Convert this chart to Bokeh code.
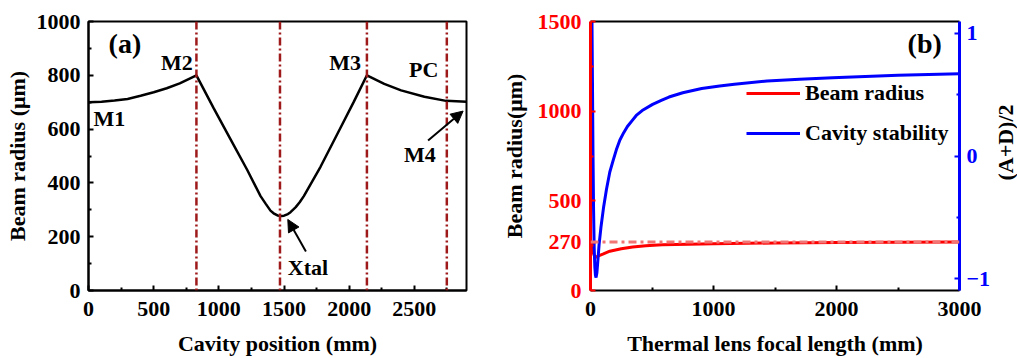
from bokeh.plotting import figure
from bokeh.models import (Range1d, LinearAxis, FixedTicker, Span, Label, Arrow,
                          NormalHead, Legend, LegendItem)
from bokeh.layouts import row
from bokeh.embed import file_html
from bokeh.resources import INLINE
import math

FONT = "Liberation Serif"

# ---------------- panel (a) data ----------------
cav_pos = [0, 100, 200, 300, 400, 500, 600, 700, 828, 961, 1089, 1218, 1320, 1360,
           1396, 1420, 1450, 1480, 1500, 1530, 1550, 1590, 1620, 1652, 1780, 1908,
           2036, 2136, 2269, 2398, 2577, 2743, 2900]
beam_w = [700, 702, 706, 712, 724, 737, 752, 770, 800, 677, 563, 448, 351, 322,
          297, 287, 279, 277, 278, 284, 291, 310, 328, 351, 460, 581,
          702, 800, 768, 744, 720, 705, 702]
mirror_pos = [828, 1469, 2136, 2749]
a_xticks = [0, 500, 1000, 1500, 2000, 2500]
a_xminor = [250, 750, 1250, 1750, 2250, 2750]
a_yticks = [0, 200, 400, 600, 800, 1000]
a_yminor = [100, 300, 500, 700, 900]
a_labels = ["M1", "M2", "M3", "PC", "M4", "Xtal"]
a_label_x = [38, 799, 2090, 2459, 2421, 1529]
a_label_y = [641, 848, 848, 822, 507, 87]
a_label_align = ["left", "right", "right", "left", "left", "left"]
arrow_tail = [(2605, 558), (1668, 145)]
arrow_tip = [(2874, 667), (1529, 264)]

# ---------------- panel (b) data ----------------
f_red = [5, 20, 37, 60, 100, 157, 250, 343, 450, 582, 800, 1000, 1500, 2000, 2500, 3000]
w_red = [268, 215, 183, 192, 203, 219, 233, 243, 250, 255, 258, 261, 265, 268, 269, 270]
f_blue = [8, 12, 16, 20, 25, 30, 35, 40, 45, 52, 60, 70, 85, 106, 130, 157, 186, 210,
          239, 270, 300, 340, 372, 420, 505, 580, 638, 750, 904, 1050, 1170, 1436,
          1700, 1968, 2500, 3000]
v_blue = [1.4, 1.1, 0.6, 0.05, -0.44, -0.75, -0.9, -0.97, -0.99, -0.95, -0.85, -0.72,
          -0.58, -0.42, -0.27, -0.13, -0.03, 0.05, 0.13, 0.19, 0.24, 0.29, 0.33, 0.37,
          0.42, 0.455, 0.48, 0.515, 0.55, 0.57, 0.585, 0.61, 0.625, 0.638, 0.658, 0.67]
ref_radius = 270
b_xticks = [0, 1000, 2000, 3000]
b_xminor = [500, 1500, 2500]
b_yticks = [0, 270, 500, 1000, 1500]
b_yminor = [250, 750, 1250]
b_rticks = [-1, 0, 1]
b_rminor = [-0.5, 0.5]


def style_axis(ax, color="black"):
    ax.axis_line_color = color
    ax.axis_line_width = 2
    ax.major_tick_line_color = color
    ax.minor_tick_line_color = color
    ax.major_tick_line_width = 2
    ax.minor_tick_line_width = 2
    ax.major_tick_in = 5
    ax.major_tick_out = 0
    ax.minor_tick_in = 3
    ax.minor_tick_out = 0
    ax.major_label_text_font = FONT
    ax.major_label_text_font_style = "bold"
    ax.major_label_text_font_size = "22px"
    ax.major_label_text_color = color
    ax.axis_label_text_font = FONT
    ax.axis_label_text_font_style = "bold"
    ax.axis_label_text_font_size = "22px"
    ax.axis_label_text_color = "black"


H = 358

# ---------------- panel (a) ----------------
pa = figure(width=498, height=H, x_range=Range1d(0, 2900), y_range=Range1d(0, 1000),
            output_backend="svg", toolbar_location=None,
            min_border_left=88, min_border_right=32, min_border_top=21, min_border_bottom=61)
pa.grid.visible = False
pa.outline_line_color = "black"
pa.outline_line_width = 2
pa.background_fill_color = "white"
pa.border_fill_color = "white"

style_axis(pa.xaxis[0])
style_axis(pa.yaxis[0])
pa.xaxis[0].ticker = FixedTicker(ticks=a_xticks, minor_ticks=a_xminor)
pa.yaxis[0].ticker = FixedTicker(ticks=a_yticks, minor_ticks=a_yminor)
pa.xaxis[0].axis_label = "Cavity position (mm)"
pa.yaxis[0].axis_label = "Beam radius (\u03bcm)"
pa.xaxis[0].major_label_standoff = 11
pa.xaxis[0].axis_label_standoff = 12
pa.yaxis[0].major_label_standoff = 8
pa.yaxis[0].axis_label_standoff = 4

for m in mirror_pos:
    pa.add_layout(Span(location=m, dimension="height", line_color="#9e1a1a",
                       line_width=2.5, line_dash="8 3 2 3"))

pa.line(cav_pos, beam_w, line_color="black", line_width=2.5)

for t, x, y, al in zip(a_labels, a_label_x, a_label_y, a_label_align):
    pa.add_layout(Label(x=x, y=y, text=t, text_font=FONT, text_font_style="bold",
                        text_font_size="22px", text_align=al, text_baseline="middle",
                        text_color="black"))
pa.add_layout(Label(x=154, y=920, text="(a)", text_font=FONT, text_font_style="bold",
                    text_font_size="28px", text_align="left", text_baseline="middle",
                    text_color="black"))
for (x0, y0), (x1, y1) in zip(arrow_tail, arrow_tip):
    pa.add_layout(Arrow(end=NormalHead(size=12, fill_color="black", line_color="black"),
                        x_start=x0, y_start=y0, x_end=x1, y_end=y1,
                        line_color="black", line_width=2))

# ---------------- panel (b) ----------------
pb = figure(width=495, height=H, x_range=Range1d(0, 3000), y_range=Range1d(0, 1500),
            output_backend="svg", toolbar_location=None,
            min_border_left=89, min_border_right=30, min_border_top=21, min_border_bottom=61)
pb.grid.visible = False
pb.outline_line_color = None
pb.background_fill_color = "white"
pb.border_fill_color = "white"
pb.extra_y_ranges = {"stab": Range1d(-1.095, 1.095)}

style_axis(pb.xaxis[0])
style_axis(pb.yaxis[0], "#ff0000")
pb.yaxis[0].axis_line_width = 3
pb.xaxis[0].ticker = FixedTicker(ticks=b_xticks, minor_ticks=b_xminor)
pb.yaxis[0].ticker = FixedTicker(ticks=b_yticks, minor_ticks=b_yminor)
pb.xaxis[0].axis_label = "Thermal lens focal length (mm)"
pb.yaxis[0].axis_label = "Beam radius(\u03bcm)"
pb.xaxis[0].major_label_standoff = 11
pb.xaxis[0].axis_label_standoff = 12
pb.yaxis[0].major_label_standoff = 9
pb.yaxis[0].axis_label_standoff = 8

rax = LinearAxis(y_range_name="stab",
                 ticker=FixedTicker(ticks=b_rticks, minor_ticks=b_rminor))
style_axis(rax, "#0000ff")
rax.axis_line_width = 3
rax.major_label_standoff = 7
pb.add_layout(rax, "right")

tax = LinearAxis(ticker=FixedTicker(ticks=[]), major_label_text_font_size="0px",
                 axis_line_color="black", axis_line_width=2,
                 major_tick_line_color=None, minor_tick_line_color=None)
pb.add_layout(tax, "above")

r_red = pb.line(f_red, w_red, line_color="#ff0000", line_width=3)
pb.add_layout(Span(location=ref_radius, dimension="width", line_color="#f27575",
                   line_width=3, line_dash="8 4 3 4"))
r_blue = pb.line(f_blue, v_blue, line_color="#0000ff", line_width=3, y_range_name="stab")

legend = Legend(items=[LegendItem(label="Beam radius", renderers=[r_red]),
                       LegendItem(label="Cavity stability", renderers=[r_blue])],
                location=(156, 137), margin=0, padding=0, spacing=0,
                glyph_width=54, glyph_height=40, label_standoff=5,
                label_text_font=FONT, label_text_font_style="bold",
                label_text_font_size="22px", label_text_color="black",
                border_line_color=None, background_fill_alpha=0)
pb.add_layout(legend)
pb.add_layout(Label(x=2856, y=1380, text="(b)", text_font=FONT, text_font_style="bold",
                    text_font_size="28px", text_align="right", text_baseline="middle",
                    text_color="black"))

# narrow strip holding the right-hand axis title, reading bottom to top
pc = figure(width=24, height=H, x_range=Range1d(0, 24), y_range=Range1d(0, H),
            output_backend="svg", toolbar_location=None,
            x_axis_location=None, y_axis_location=None,
            min_border_left=0, min_border_right=0, min_border_top=0, min_border_bottom=0)
pc.grid.visible = False
pc.outline_line_color = None
pc.border_fill_color = "white"
pc.add_layout(Label(x=12, y=H - 161, text="(A+D)/2", text_font=FONT, text_font_style="bold",
                    text_font_size="22px", text_align="center", text_baseline="middle",
                    angle=math.pi / 2, text_color="black"))

layout = row(pa, pb, pc)
open("out.html", "w").write(file_html(layout, INLINE))
